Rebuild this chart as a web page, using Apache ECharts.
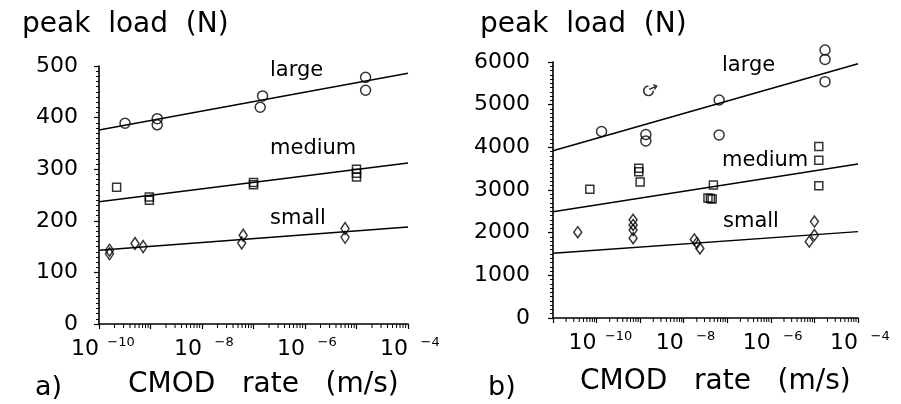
<!DOCTYPE html>
<html><head><meta charset="utf-8">
<script src="https://cdn.jsdelivr.net/npm/echarts@6/dist/echarts.min.js"></script>
<style>html,body{margin:0;padding:0;background:#fff}#c{width:901px;height:404px}</style>
</head><body><div id="c"></div>
<script>
// ---------- Panel a) data ----------
const aLargeX  = [3.2e-10, 1.35e-9, 1.35e-9, 1.5e-7, 1.35e-7, 1.5e-5, 1.5e-5];
const aLargeY  = [389, 398, 386, 442, 420, 478, 453];
const aMediumX = [2.2e-10, 9.5e-10, 9.5e-10, 1e-7, 1e-7, 1e-5, 1e-5, 1e-5];
const aMediumY = [265, 246, 240, 274, 270, 300, 292, 285];
const aSmallX  = [1.6e-10, 1.6e-10, 5e-10, 7.2e-10, 6.3e-8, 5.9e-8, 6e-6, 6e-6];
const aSmallY  = [143, 136, 156, 150, 172, 157, 185, 168];
const aFitX = [1e-10, 1e-4];
const aLargeFitY  = [376, 486];
const aMediumFitY = [237, 312];
const aSmallFitY  = [143, 188];
const aYTicks = [0, 100, 200, 300, 400, 500];

// ---------- Panel b) data ----------
const bLargeX  = [1.3e-10, 1.35e-9, 1.35e-9, 6.5e-8, 6.5e-8, 1.75e-5, 1.75e-5, 1.75e-5];
const bLargeY  = [4370, 4300, 4150, 5110, 4290, 6280, 6060, 5540];
const bOddX = [1.7e-9];
const bOddY = [5340];
const bMediumX = [7e-11, 9.3e-10, 9.3e-10, 1e-9, 4.8e-8, 3.6e-8, 4.1e-8, 4.5e-8, 1.26e-5, 1.26e-5, 1.26e-5];
const bMediumY = [3020, 3510, 3430, 3190, 3120, 2810, 2800, 2790, 4020, 3700, 3100];
const bSmallX  = [3.7e-11, 6.9e-10, 6.9e-10, 6.9e-10, 6.9e-10, 1.75e-8, 2.0e-8, 2.35e-8, 1.0e-5, 7.6e-6, 1.0e-5];
const bSmallY  = [2010, 2300, 2180, 2060, 1870, 1840, 1760, 1630, 2260, 1790, 1945];
const bFitX = [1e-11, 1e-4];
const bLargeFitY  = [3920, 5960];
const bMediumFitY = [2490, 3610];
const bSmallFitY  = [1516, 2025];
const bYTicks = [0, 1000, 2000, 3000, 4000, 5000, 6000];

const xLabelExps = [-10, -8, -6, -4];

const zip = (xs, ys) => xs.map((x, i) => [x, ys[i]]);
const FONT = 'DejaVu Sans';

function minorTicks(lo, hi) {
  const out = [];
  for (let n = lo; n < hi; n++) for (let k = 2; k <= 9; k++) out.push([k * Math.pow(10, n), 0]);
  return out;
}

function xFormatter(v) {
  const e = Math.round(Math.log10(v));
  if (xLabelExps.indexOf(e) < 0) return '';
  return '{sp| }{b|10}{e| \u2212' + (-e) + '}';
}
const xRich = {
  sp: { width: 12, fontSize: 13 },
  b: { width: 28, align: 'right', fontSize: 22, fontFamily: FONT, color: '#000', lineHeight: 24, verticalAlign: 'bottom' },
  e: { width: 40, align: 'left', fontSize: 13, fontFamily: FONT, color: '#000', lineHeight: 24, verticalAlign: 'top', padding: [0, 0, 10, 0] }
};

function xAxisDef(gi, min) {
  return {
    type: 'log', gridIndex: gi, min: min, max: 1e-4, logBase: 10,
    axisLine: { show: true, lineStyle: { color: '#000', width: 1.6 } },
    axisTick: { show: true, inside: false, length: 5, lineStyle: { color: '#000', width: 1.2 } },
    splitLine: { show: false },
    minorTick: { show: false },
    axisLabel: { margin: 12, formatter: xFormatter, rich: xRich, color: '#000' }
  };
}
function yAxisDef(gi, ticks, margin) {
  return {
    type: 'value', gridIndex: gi, min: ticks[0], max: ticks[ticks.length - 1], interval: ticks[1] - ticks[0],
    axisLine: { show: true, onZero: false, lineStyle: { color: '#000', width: 1.6 } },
    axisTick: { show: true, inside: false, length: 5, lineStyle: { color: '#000', width: 1.2 } },
    minorTick: { show: true, splitNumber: 10, length: 3, lineStyle: { color: '#000', width: 1 } },
    splitLine: { show: false },
    axisLabel: { fontSize: 22, fontFamily: FONT, color: '#000', margin: margin, formatter: v => String(v) }
  };
}

const open = { color: 'rgba(0,0,0,0)', borderColor: '#000', borderWidth: 1.5 };
function scat(xi, data, symbol, size) {
  return { type: 'scatter', xAxisIndex: xi, yAxisIndex: xi, data: data, symbol: symbol, symbolSize: size,
    itemStyle: open, clip: false, z: 5 };
}
function fit(xi, data) {
  return { type: 'line', xAxisIndex: xi, yAxisIndex: xi, data: data, symbol: 'none',
    lineStyle: { color: '#000', width: 1.4 }, z: 4 };
}
function tickSeries(xi, data) {
  return { type: 'custom', xAxisIndex: xi, yAxisIndex: xi, data: data, clip: false, silent: true, z: 6,
    renderItem: function (params, api) {
      const p = api.coord([api.value(0), api.value(1)]);
      return { type: 'line', shape: { x1: p[0], y1: p[1], x2: p[0], y2: p[1] + 4 },
        style: { stroke: '#000', lineWidth: 1 } };
    } };
}
const oddSymbol = 'path://M10,3 A7,7 0 1 0 17,10 M11,8 L22,3 M17,1 L22,3 L19,8';

function txt(x, y, s, size) {
  return { type: 'text', left: x, top: y, style: { text: s, font: size + 'px "' + FONT + '"', fill: '#000', textVerticalAlign: 'middle' } };
}

const chart = echarts.init(document.getElementById('c'), null, { renderer: 'canvas' });
chart.setOption({
  animation: false,
  backgroundColor: '#fff',
  grid: [
    { left: 99, top: 66, width: 309, height: 258 },
    { left: 553, top: 62, width: 309, height: 256 }
  ],
  xAxis: [xAxisDef(0, 1e-10), xAxisDef(1, 1e-11)],
  yAxis: [yAxisDef(0, aYTicks, 21), yAxisDef(1, bYTicks, 23)],
  series: [
    fit(0, zip(aFitX, aLargeFitY)), fit(0, zip(aFitX, aMediumFitY)), fit(0, zip(aFitX, aSmallFitY)),
    scat(0, zip(aLargeX, aLargeY), 'circle', 10),
    scat(0, zip(aMediumX, aMediumY), 'rect', 8),
    scat(0, zip(aSmallX, aSmallY), 'diamond', [8, 12]),
    tickSeries(0, minorTicks(-10, -4)),
    fit(1, zip(bFitX, bLargeFitY)), fit(1, zip(bFitX, bMediumFitY)), fit(1, zip(bFitX, bSmallFitY)),
    scat(1, zip(bLargeX, bLargeY), 'circle', 10),
    scat(1, zip(bOddX, bOddY), oddSymbol, [13, 11]),
    scat(1, zip(bMediumX, bMediumY), 'rect', 8),
    scat(1, zip(bSmallX, bSmallY), 'diamond', [8, 11]),
    tickSeries(1, minorTicks(-11, -4))
  ],
  graphic: [
    txt(22, 11, 'peak  load  (N)', 28),
    txt(270, 60, 'large', 21),
    txt(270, 138, 'medium', 21),
    txt(270, 208, 'small', 21),
    txt(35, 374, 'a)', 27),
    txt(128, 371, 'CMOD   rate   (m/s)', 28),
    txt(480, 11, 'peak  load  (N)', 28),
    txt(722, 55, 'large', 21),
    txt(722, 150, 'medium', 21),
    txt(723, 211, 'small', 21),
    txt(488, 374, 'b)', 27),
    txt(580, 368, 'CMOD   rate   (m/s)', 28)
  ]
});
</script></body></html>
